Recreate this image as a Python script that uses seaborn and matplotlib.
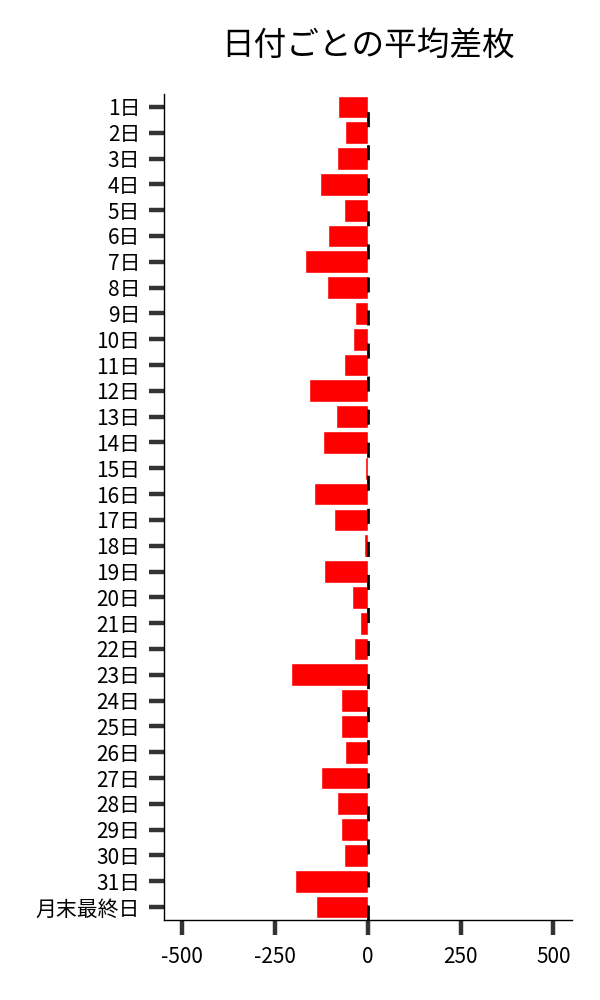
import pandas as pd
import matplotlib
matplotlib.use("Agg")
import matplotlib.pyplot as plt
import seaborn as sns

# 日付ごとの平均差枚
days = [f"{d}日" for d in range(1, 32)] + ["月末最終日"]
avg_diff = [-79, -62, -84, -128, -65, -106, -168, -111, -35, -41,
            -65, -158, -87, -122, -8, -144, -92, -11, -117, -43,
            -22, -38, -207, -73, -71, -62, -125, -84, -73, -65,
            -196, -139]

df = pd.DataFrame({"日付": days, "平均差枚": avg_diff})

sns.set_theme(style="ticks")
plt.rcParams['font.family'] = ['Noto Sans CJK JP', 'DejaVu Sans']
plt.rcParams['text.color'] = 'black'
plt.rcParams['xtick.labelcolor'] = 'black'
plt.rcParams['ytick.labelcolor'] = 'black'

fig = plt.figure(figsize=(6, 10), dpi=100)
ax = fig.add_axes([0.273, 0.08, 0.68, 0.826])

sns.barplot(data=df, x="平均差枚", y="日付", color="#ff0000", saturation=1,
            width=0.88, orient="h", ax=ax)
ax.axvline(0, color="black", lw=2, dashes=(5.4, 6.5), zorder=5)

ax.set_xlim(-550, 550)
ax.set_xticks([-500, -250, 0, 250, 500])
ax.set_xticklabels(["-500", "-250", "0", "250", "500"])
ax.set_xlabel("")
ax.set_ylabel("")
ax.set_title("日付ごとの平均差枚", fontsize=23.5, pad=28, color="black")

ax.tick_params(axis="both", length=11, width=3.2, color="#333333",
               labelsize=15, pad=6)
ax.tick_params(axis="x", pad=8)
for side in ["left", "bottom"]:
    ax.spines[side].set_color("black")
    ax.spines[side].set_linewidth(1)
sns.despine(ax=ax)

fig.savefig("out.png", dpi=100)
